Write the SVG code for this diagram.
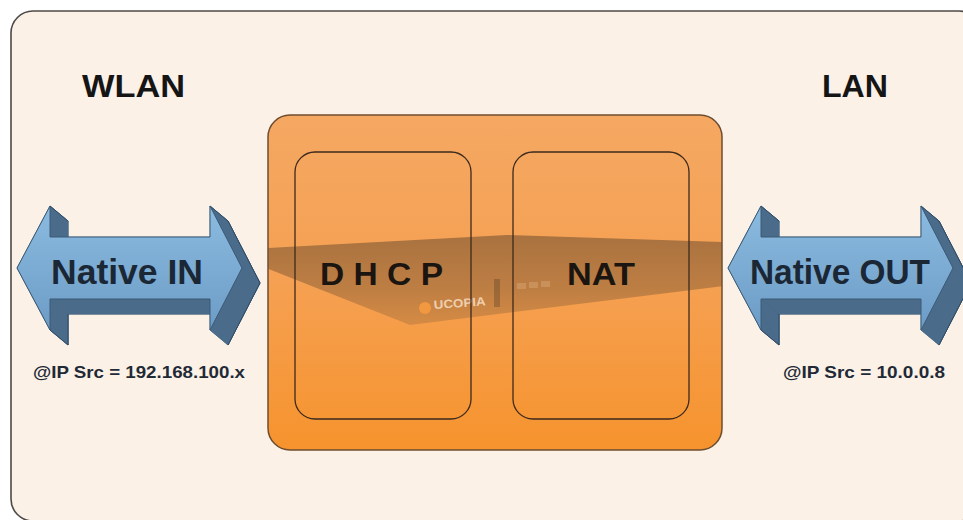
<svg xmlns="http://www.w3.org/2000/svg" width="963" height="520" viewBox="0 0 963 520">
  <style>
    .frame { fill: #fcf1e7; stroke: #4d4a47; stroke-width: 1.6; }
    .back { fill: #4a6b8a; stroke: #2f4b64; stroke-width: 1; stroke-linejoin: round; }
    .side { fill: #4a6b8a; stroke: #4a6b8a; stroke-width: 0.6; stroke-linejoin: round; }
    .front { fill: url(#arrowFace); stroke: #3b5a76; stroke-width: 1; stroke-linejoin: round; }
    .title { font-family: "Liberation Sans", Arial, sans-serif; font-weight: bold; font-size: 31px; fill: #151515; }
    .arrowLabel { font-family: "Liberation Sans", Arial, sans-serif; font-weight: bold; font-size: 35px; fill: #1b2735; text-anchor: middle; }
    .ipLabel { font-family: "Liberation Sans", Arial, sans-serif; font-weight: bold; font-size: 17px; fill: #1f2a36; }
    .module { fill: none; stroke: #3d2a1c; stroke-width: 1.3; }
    .moduleLabel { font-family: "Liberation Sans", Arial, sans-serif; font-weight: bold; font-size: 32px; fill: #1a1510; }
  </style>
  <defs>
    <linearGradient id="arrowFace" x1="0" y1="0" x2="0" y2="1">
      <stop offset="0" stop-color="#8cbbe0"/>
      <stop offset="1" stop-color="#6c9cc6"/>
    </linearGradient>
    <linearGradient id="boxFill" x1="0" y1="0" x2="0" y2="1">
      <stop offset="0" stop-color="#f5a862"/>
      <stop offset="0.5" stop-color="#f5a052"/>
      <stop offset="1" stop-color="#f6932d"/>
    </linearGradient>
    <linearGradient id="deviceFill" x1="0" y1="0" x2="0" y2="1">
      <stop offset="0" stop-color="#6a4a2c" stop-opacity="0.55"/>
      <stop offset="0.6" stop-color="#7a5532" stop-opacity="0.45"/>
      <stop offset="1" stop-color="#8a6038" stop-opacity="0.3"/>
    </linearGradient>
    <clipPath id="boxClip">
      <rect x="268" y="115" width="454" height="335" rx="22"/>
    </clipPath>
    <!-- extruded double-headed arrow, front face offset by (18,15) from its back -->
    <g id="dblArrow">
      <polygon class="back" points="35,283 68,221 68,252 228,252 228,221 260,283 228,345 228,314 68,314 68,345"/>
      <polygon class="side" points="17,268 50,206 68,221 35,283"/>
      <polygon class="side" points="50,206 50,237 68,252 68,221"/>
      <polygon class="side" points="50,237 210,237 228,252 68,252"/>
      <polygon class="side" points="210,237 210,206 228,221 228,252"/>
      <polygon class="side" points="210,206 242,268 260,283 228,221"/>
      <polygon class="side" points="242,268 210,330 228,345 260,283"/>
      <polygon class="side" points="210,330 210,299 228,314 228,345"/>
      <polygon class="side" points="210,299 50,299 68,314 228,314"/>
      <polygon class="side" points="50,299 50,330 68,345 68,314"/>
      <polygon class="side" points="50,330 17,268 35,283 68,345"/>
      <path d="M50,206 L68,221 M210,206 L228,221 L260,283 L228,345 M68,314 L68,345 L50,330" fill="none" stroke="#2f4b64" stroke-width="1" stroke-linejoin="round"/>
      <polygon class="front" points="17,268 50,206 50,237 210,237 210,206 242,268 210,330 210,299 50,299 50,330"/>
    </g>
  </defs>

  <rect width="963" height="520" fill="#ffffff"/>
  <rect class="frame" x="11" y="11" width="970" height="510" rx="22"/>

  <text class="title" x="82" y="97" textLength="103" lengthAdjust="spacingAndGlyphs">WLAN</text>
  <text class="title" x="822" y="97" textLength="66" lengthAdjust="spacingAndGlyphs">LAN</text>

  <!-- appliance box -->
  <g id="appliance">
    <rect x="268" y="115" width="454" height="335" rx="22" fill="url(#boxFill)" stroke="#6e4d30" stroke-width="1.5"/>
    <g clip-path="url(#boxClip)">
      <polygon points="266,248 507,235 724,242 724,286 410,325 266,268" fill="url(#deviceFill)"/>
      <rect x="494" y="279" width="6" height="28" fill="#5a3c24" opacity="0.35"/>
      <rect x="517" y="283" width="9" height="6" fill="#d9a878" opacity="0.45"/>
      <rect x="529" y="282" width="9" height="6" fill="#d9a878" opacity="0.45"/>
      <rect x="541" y="281" width="9" height="6" fill="#d9a878" opacity="0.45"/>
      <circle cx="425" cy="308" r="6" fill="#f59a40" opacity="0.9"/>
      <text x="434" y="309" transform="rotate(-4 434 309)" font-family="'Liberation Sans', Arial, sans-serif" font-weight="bold" font-size="12" fill="#f6dcc0" opacity="0.85" textLength="52" lengthAdjust="spacingAndGlyphs">UCOPIA</text>
    </g>
  </g>

  <g id="dhcp">
    <rect class="module" x="295" y="152" width="176" height="267" rx="20"/>
    <text class="moduleLabel" x="320" y="285" textLength="123" lengthAdjust="spacingAndGlyphs">D H C P</text>
  </g>

  <g id="nat">
    <rect class="module" x="513" y="152" width="176" height="267" rx="20"/>
    <text class="moduleLabel" x="567" y="285" textLength="68" lengthAdjust="spacingAndGlyphs">NAT</text>
  </g>

  <g id="native-in">
    <use href="#dblArrow"/>
    <text class="arrowLabel" x="127" y="284" textLength="152" lengthAdjust="spacingAndGlyphs">Native IN</text>
    <text class="ipLabel" x="33" y="378" textLength="212" lengthAdjust="spacingAndGlyphs">@IP Src = 192.168.100.x</text>
  </g>

  <g id="native-out">
    <use href="#dblArrow" transform="translate(711 0)"/>
    <text class="arrowLabel" x="840" y="284" textLength="180" lengthAdjust="spacingAndGlyphs">Native OUT</text>
    <text class="ipLabel" x="783" y="378" textLength="162" lengthAdjust="spacingAndGlyphs">@IP Src = 10.0.0.8</text>
  </g>

  <!-- connectors: the arrows above are drawn as nodes; no separate links -->
  <g id="connectors"/>
</svg>
